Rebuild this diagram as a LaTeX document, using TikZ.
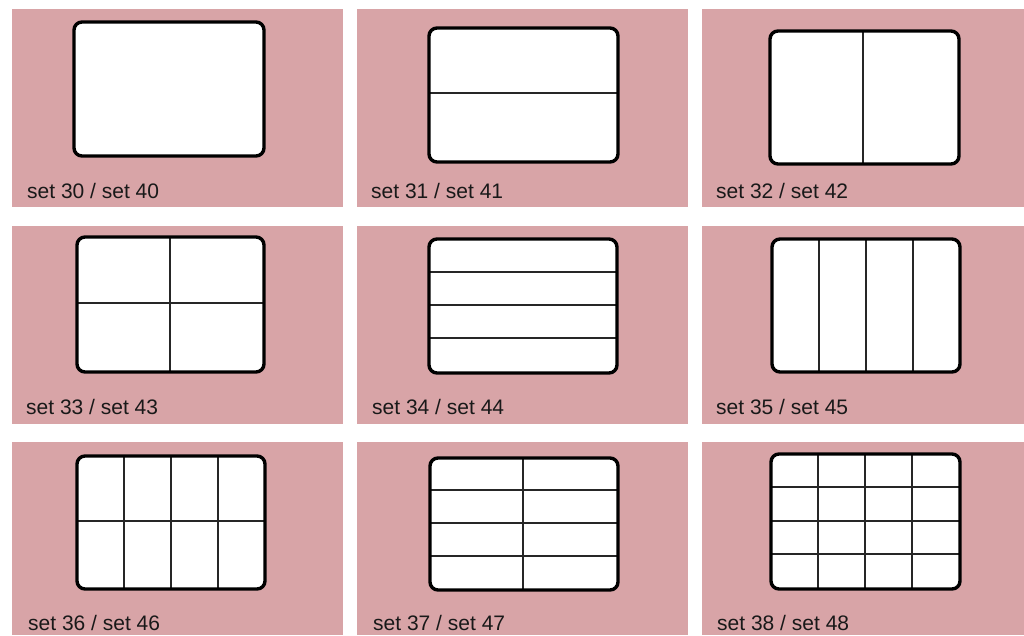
\documentclass[tikz,border=0pt]{standalone}
\usepackage{fontspec}
\setmainfont{Liberation Sans}
\definecolor{panelpink}{RGB}{216,164,167}
\newcommand\mycard[5]{%
  \fill[white,rounded corners=8pt] (#1,#2) rectangle (#3,#4);
  #5
  \draw[cardedge] (#1,#2) rectangle (#3,#4);}
\begin{document}
\begin{tikzpicture}[x=1pt,y=-1pt,
  panel/.style={fill=panelpink},
  cardedge/.style={draw=black,line width=3.4pt,rounded corners=8pt},
  divider/.style={draw=black!85,line width=1.3pt},
  caption/.style={anchor=base west,inner sep=0pt,font=\fontsize{21}{25}\selectfont,text=black!90}]
\useasboundingbox (0,0) rectangle (1024,635);
\fill[white] (0,0) rectangle (1024,635);
% panels
\fill[panel] (12,9) rectangle (343,207);
\fill[panel] (357,9) rectangle (688,207);
\fill[panel] (702,9) rectangle (1024,207);
\fill[panel] (12,226) rectangle (343,424);
\fill[panel] (357,226) rectangle (688,424);
\fill[panel] (702,226) rectangle (1024,424);
\fill[panel] (12,442) rectangle (343,635);
\fill[panel] (357,442) rectangle (688,635);
\fill[panel] (702,442) rectangle (1024,635);
% row 1
\mycard{74}{22}{264}{156}{}
\mycard{429}{28}{618}{162}{\draw[divider] (429,93) -- (618,93);}
\mycard{770}{31}{959}{164}{\draw[divider] (863,31) -- (863,164);}
% row 2
\mycard{77}{237}{264}{372}{\draw[divider] (170,237) -- (170,372);
  \draw[divider] (77,303) -- (264,303);}
\mycard{429}{239}{617}{373}{\foreach \yy in {272,305,338} \draw[divider] (429,\yy) -- (617,\yy);}
\mycard{772}{239}{960}{372}{\foreach \xx in {819,866,913} \draw[divider] (\xx,239) -- (\xx,372);}
% row 3
\mycard{77}{456}{265}{589}{\foreach \xx in {124,171,218} \draw[divider] (\xx,456) -- (\xx,589);
  \draw[divider] (77,521) -- (265,521);}
\mycard{430}{458}{618}{590}{\draw[divider] (523,458) -- (523,590);
  \foreach \yy in {490,523,556} \draw[divider] (430,\yy) -- (618,\yy);}
\mycard{771}{454}{960}{589}{\foreach \xx in {818,865,912} \draw[divider] (\xx,454) -- (\xx,589);
  \foreach \yy in {487,521,554} \draw[divider] (771,\yy) -- (960,\yy);}
% captions
\node[caption] (t30) at (27,198) {set 30 / set 40};
\node[caption] (t31) at (371,198) {set 31 / set 41};
\node[caption] (t32) at (716,198) {set 32 / set 42};
\node[caption] (t33) at (26,414) {set 33 / set 43};
\node[caption] (t34) at (372,414) {set 34 / set 44};
\node[caption] (t35) at (716,414) {set 35 / set 45};
\node[caption] (t36) at (28,630) {set 36 / set 46};
\node[caption] (t37) at (373,630) {set 37 / set 47};
\node[caption] (t38) at (717,630) {set 38 / set 48};
\end{tikzpicture}
\end{document}
